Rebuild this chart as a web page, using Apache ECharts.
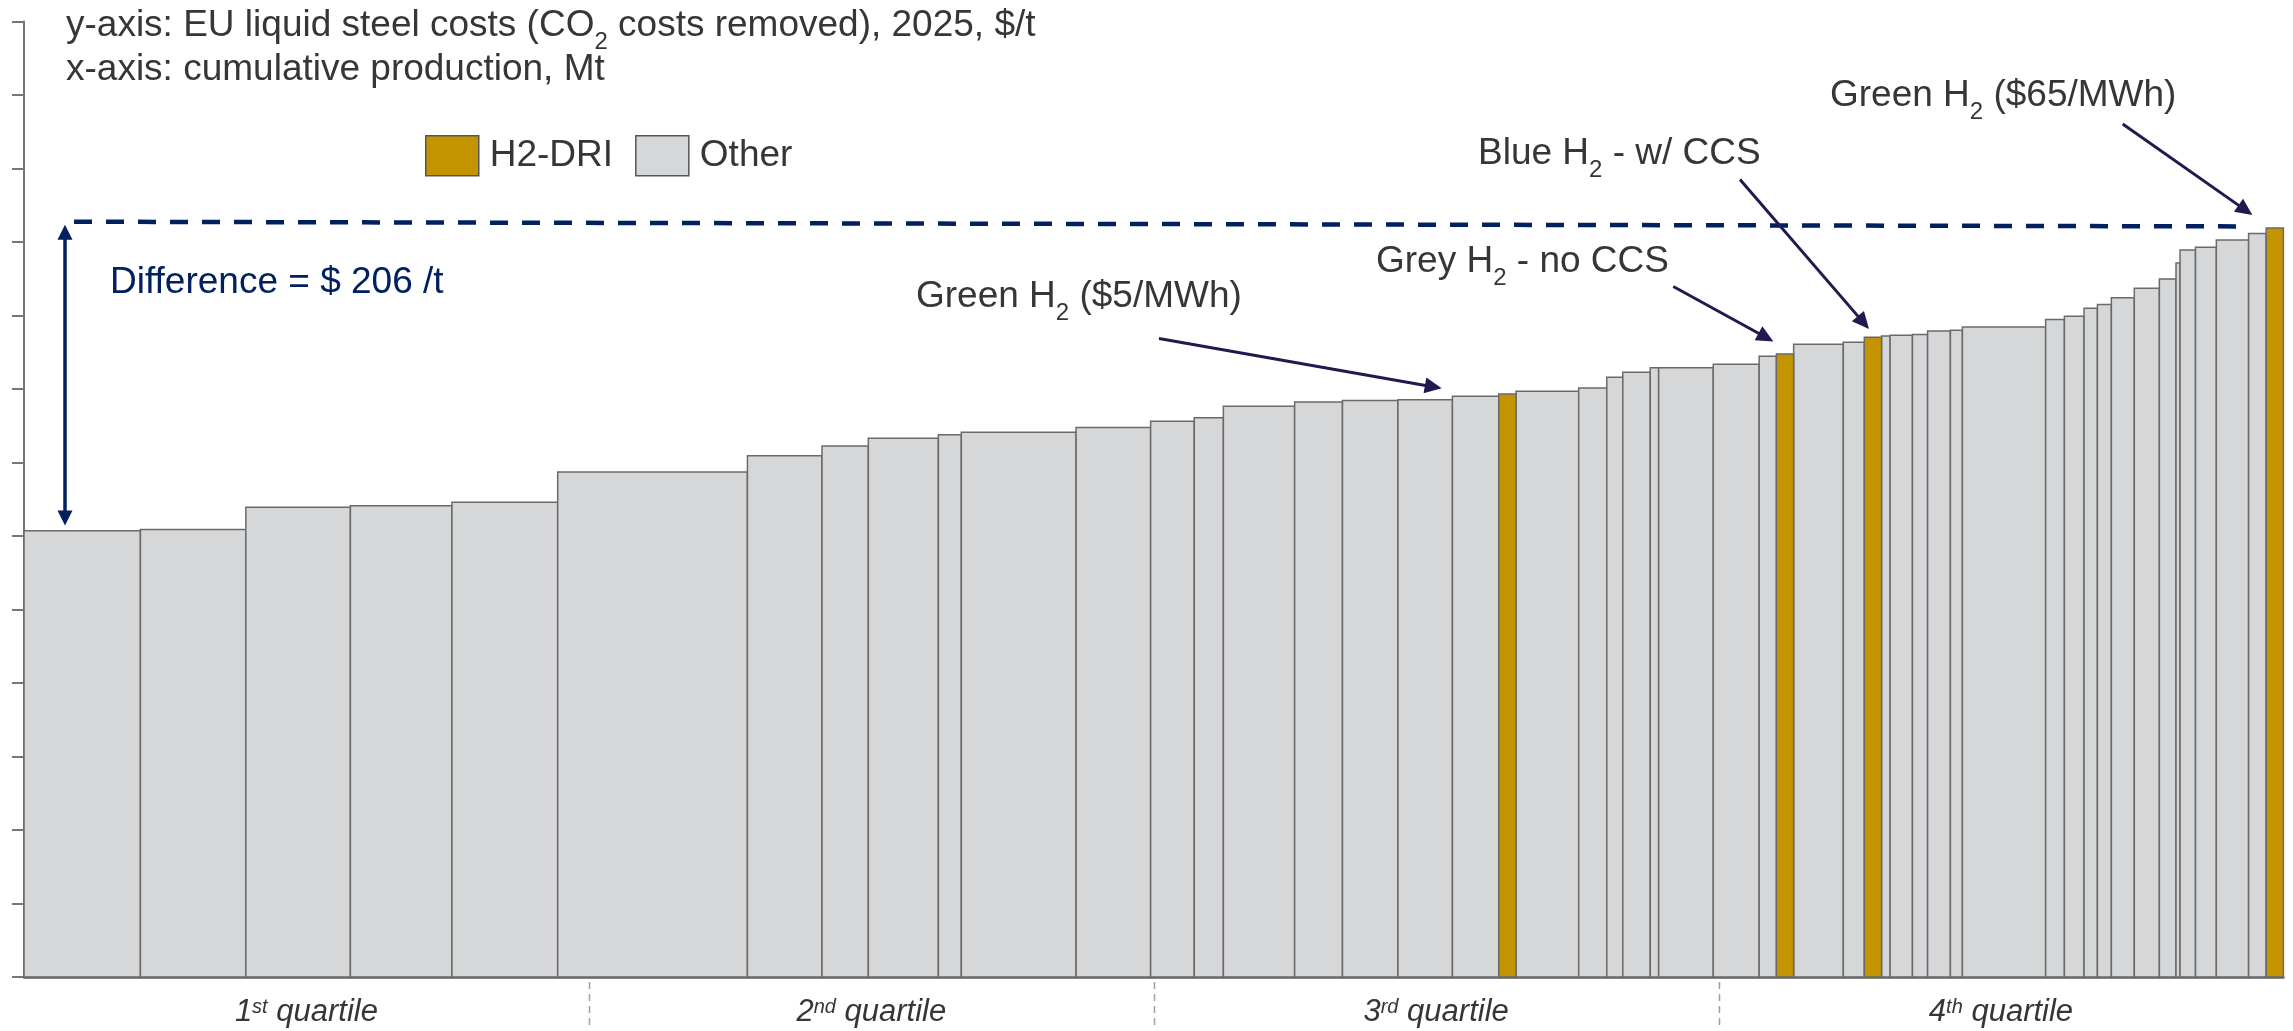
<!DOCTYPE html>
<html>
<head>
<meta charset="utf-8">
<title>EU liquid steel cost curve</title>
<script src="https://cdn.jsdelivr.net/npm/echarts@6/dist/echarts.min.js"></script>
<style>
  html, body { margin: 0; padding: 0; background: #ffffff; }
  #chart { width: 2293px; height: 1031px; }
</style>
</head>
<body>
<div id="chart"></div>
<script>
// Production capacity of each plant group (Mt), in merit order
const capacities = [
  7.76, 7.03, 6.97, 6.77, 7.05, 12.65, 4.97, 3.09, 4.67, 1.53,
  7.65, 4.97, 2.91, 1.94, 4.75, 3.19, 3.70, 3.63, 3.09, 1.15,
  4.18, 1.87, 1.07, 1.83, 0.56, 3.64, 3.06, 1.15, 1.15, 3.31,
  1.40, 1.15, 0.57, 1.49, 1.01, 1.52, 0.80, 5.55, 1.25, 1.31,
  0.89, 0.93, 1.53, 1.67, 1.11, 0.27, 1.03, 1.39, 2.15, 1.17, 1.15
];
// Liquid steel cost of each group, 2025, $/t (CO2 costs removed)
const costs = [
  303.5, 304.5, 319.6, 320.6, 323.0, 343.5, 354.6, 361.3, 366.5, 368.8,
  370.6, 373.8, 378.1, 380.4, 388.2, 391.1, 392.2, 392.7, 395.0, 396.6,
  398.4, 400.7, 408.0, 411.4, 414.4, 414.5, 416.8, 422.2, 423.8, 430.5,
  431.8, 435.2, 436.1, 436.5, 437.1, 439.5, 439.9, 442.2, 447.2, 449.5,
  454.9, 457.5, 462.0, 468.5, 474.8, 485.7, 494.6, 496.4, 501.4, 505.8, 509.5
];
// Production route of each group
const routes = [
  'O','O','O','O','O','O','O','O','O','O',
  'O','O','O','O','O','O','O','O','O','H',
  'O','O','O','O','O','O','O','O','H','O',
  'O','H','O','O','O','O','O','O','O','O',
  'O','O','O','O','O','O','O','O','O','O','H'
];
const seriesNames = { H: 'H2-DRI', O: 'Other' };
const quartileNames = ['1', '2', '3', '4'];
const quartileSuffixes = ['st', 'nd', 'rd', 'th'];
const yTicks = { min: 0, max: 650, step: 50 };

const FONT = "'Liberation Sans', Arial, Helvetica, sans-serif";
const TEXT = '#363636';
const NAVY = '#002060';
const ARROW = '#1f1b4e';

// Cumulative x extents for each bar
const total = capacities.reduce((a, b) => a + b, 0);
const bars = [];
let acc = 0;
capacities.forEach((c, i) => {
  bars.push({ x0: acc, x1: acc + c, cost: costs[i], route: routes[i] });
  acc += c;
});

function seriesData(route) {
  return bars.filter(b => b.route === route).map(b => [b.x0, b.x1, b.cost]);
}

function renderBar(params, api) {
  const p0 = api.coord([api.value(0), 0]);
  const p1 = api.coord([api.value(1), api.value(2)]);
  return {
    type: 'rect',
    shape: { x: p0[0], y: p1[1], width: p1[0] - p0[0], height: p0[1] - p1[1] },
    style: { fill: api.visual('color'), stroke: '#6a6a6a', lineWidth: 1.5 }
  };
}

const chart = echarts.init(document.getElementById('chart'), null, { renderer: 'canvas' });

chart.setOption({
  animation: false,
  backgroundColor: '#ffffff',
  grid: { left: 24, right: 9.6, top: 21.5, bottom: 54, containLabel: false },
  legend: {
    left: 425, top: 135, padding: 0,
    icon: 'rect',
    itemWidth: 53, itemHeight: 40, itemGap: 22,
    data: [seriesNames.H, seriesNames.O],
    itemStyle: { borderColor: '#555555', borderWidth: 1.5 },
    textStyle: { fontFamily: FONT, fontSize: 37, color: TEXT, padding: [0, 0, 0, 6] },
    selectedMode: false
  },
  xAxis: {
    type: 'value', min: 0, max: total,
    axisLine: { show: true, onZero: true, lineStyle: { color: '#5f5f5f', width: 2.5 } },
    axisTick: { show: false }, axisLabel: { show: false }, splitLine: { show: false }
  },
  yAxis: {
    type: 'value', min: yTicks.min, max: yTicks.max, interval: yTicks.step,
    axisLine: { show: true, lineStyle: { color: '#767676', width: 2 } },
    axisTick: { show: true, inside: false, length: 12, lineStyle: { color: '#767676', width: 2 } },
    axisLabel: { show: false }, splitLine: { show: false }
  },
  series: [
    {
      name: seriesNames.O, type: 'custom', renderItem: renderBar,
      itemStyle: { color: '#d6d7d9' },
      encode: { x: [0, 1], y: 2 },
      data: seriesData('O')
    },
    {
      name: seriesNames.H, type: 'custom', renderItem: renderBar,
      itemStyle: { color: '#c49400' },
      encode: { x: [0, 1], y: 2 },
      data: seriesData('H')
    }
  ]
});

// ---- annotation layer -------------------------------------------------
const px = (x, y) => chart.convertToPixel({ gridIndex: 0 }, [x, y]);

function richStyles(size, color) {
  const base = { fontFamily: FONT, fill: color, verticalAlign: 'top' };
  return {
    m: Object.assign({ fontSize: size, lineHeight: 44 }, base),
    s: Object.assign({ fontSize: 24, lineHeight: 24, padding: [23, 0, 0, 0] }, base)
  };
}

// text with an optional subscript part; baseline is the main text baseline
function label(parts, x, baseline, color) {
  const str = parts.map((p, i) => (i % 2 === 1 ? '{s|' + p + '}' : '{m|' + p + '}')).join('');
  return {
    type: 'text', x: x, y: baseline - 28.6, z: 20,
    style: { text: str, rich: richStyles(37, color || TEXT), align: 'left', verticalAlign: 'top' }
  };
}

function arrow(x1, y1, x2, y2, color, width, headLen, headW) {
  const dx = x2 - x1, dy = y2 - y1, len = Math.hypot(dx, dy);
  const ux = dx / len, uy = dy / len;
  const bx = x2 - ux * headLen, by = y2 - uy * headLen;
  return [
    { type: 'line', z: 15, shape: { x1: x1, y1: y1, x2: bx + ux * 2, y2: by + uy * 2 },
      style: { stroke: color, lineWidth: width } },
    { type: 'polygon', z: 15,
      shape: { points: [[x2, y2], [bx - uy * headW / 2, by + ux * headW / 2], [bx + uy * headW / 2, by - ux * headW / 2]] },
      style: { fill: color } }
  ];
}

const first = bars[0], last = bars[bars.length - 1];
const yLow = px(first.x0, first.cost)[1];
const yHigh = px(last.x0, last.cost)[1];
const xLastLeft = px(last.x0, 0)[0];
const diff = Math.round(last.cost - first.cost);

const elements = [];

// axis titles
elements.push(label(['y-axis: EU liquid steel costs (CO', '2', ' costs removed), 2025, $/t'], 66, 36));
elements.push(label(['x-axis: cumulative production, Mt'], 66, 80));

// spread between cheapest and most expensive plant
elements.push({
  type: 'line', z: 10,
  shape: { x1: 74, y1: yHigh - 6.3, x2: xLastLeft - 17, y2: yHigh - 1.6 },
  style: { stroke: NAVY, lineWidth: 4.5, lineDash: [18, 14] }
});
const xa = 65, ya = yHigh - 3.3, yb = yLow - 5.4;
elements.push({ type: 'line', z: 10, shape: { x1: xa, y1: ya + 12, x2: xa, y2: yb - 12 }, style: { stroke: NAVY, lineWidth: 3.5 } });
elements.push({ type: 'polygon', z: 10, shape: { points: [[xa, ya], [xa - 7.5, ya + 15], [xa + 7.5, ya + 15]] }, style: { fill: NAVY } });
elements.push({ type: 'polygon', z: 10, shape: { points: [[xa, yb], [xa - 7.5, yb - 15], [xa + 7.5, yb - 15]] }, style: { fill: NAVY } });
elements.push(label(['Difference = $ ' + diff + ' /t'], 110, 293, NAVY));

// H2-DRI call-outs
const callouts = [
  { parts: ['Green H', '2', ' ($5/MWh)'],  x: 916,  base: 306.6, from: [1159, 338.5], to: [1441.7, 388.3] },
  { parts: ['Grey H', '2', ' - no CCS'],   x: 1376, base: 272,   from: [1673.3, 286.5], to: [1773.4, 341.5] },
  { parts: ['Blue H', '2', ' - w/ CCS'],   x: 1478, base: 164,   from: [1740, 179.5], to: [1869, 329] },
  { parts: ['Green H', '2', ' ($65/MWh)'], x: 1830, base: 105.7, from: [2122.7, 124], to: [2252.4, 215] }
];
callouts.forEach(c => {
  elements.push(label(c.parts, c.x, c.base));
  arrow(c.from[0], c.from[1], c.to[0], c.to[1], ARROW, 3, 17, 16).forEach(e => elements.push(e));
});

// quartile separators and names
const yBase = px(0, 0)[1];
for (let q = 1; q < 4; q++) {
  const x = Math.round(px(total * q / 4, 0)[0]) + 0.5;
  elements.push({
    type: 'line', z: 5,
    shape: { x1: x, y1: yBase + 5, x2: x, y2: yBase + 48 },
    style: { stroke: '#a0a0a0', lineWidth: 1.5, lineDash: [7, 5] }
  });
}
for (let q = 0; q < 4; q++) {
  const xc = px(total * (q + 0.5) / 4, 0)[0];
  elements.push({
    type: 'text', x: xc, y: 997, z: 20,
    style: {
      text: '{m|' + quartileNames[q] + '}{s|' + quartileSuffixes[q] + '}{m| quartile}',
      align: 'center', verticalAlign: 'top',
      rich: {
        m: { fontFamily: FONT, fontSize: 31, lineHeight: 36, fontStyle: 'italic', fill: TEXT, verticalAlign: 'top' },
        s: { fontFamily: FONT, fontSize: 20, lineHeight: 20, fontStyle: 'italic', fill: TEXT, verticalAlign: 'top', padding: [0, 0, 0, 0] }
      }
    }
  });
}

chart.setOption({ graphic: { elements: elements } });
</script>
</body>
</html>
